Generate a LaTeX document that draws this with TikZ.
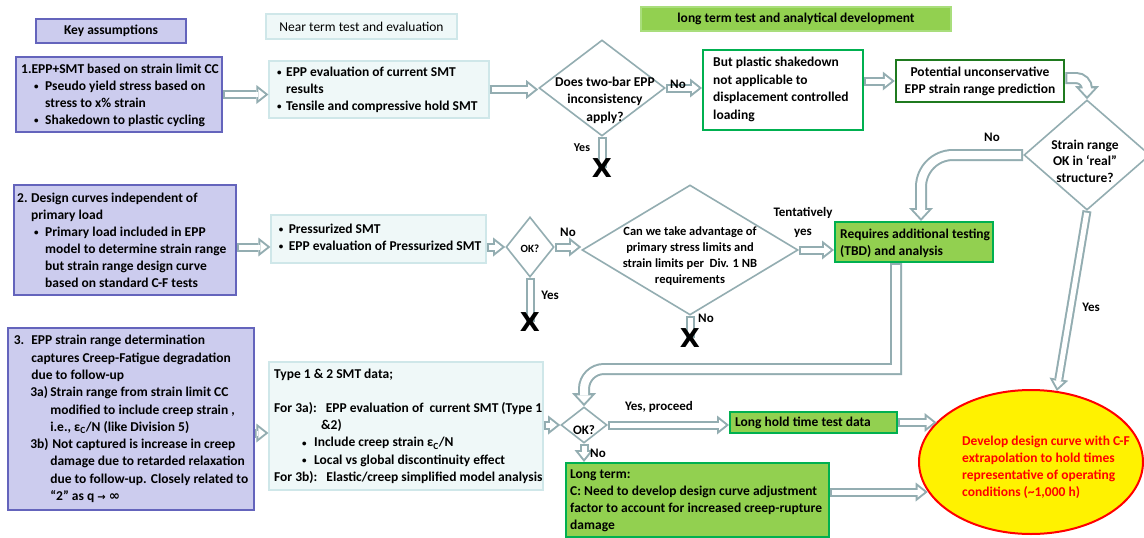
\documentclass[tikz,border=0pt]{standalone}
\usepackage{fontspec}
\setmainfont{Carlito}
\newfontfamily\symf{DejaVu Sans}
\usetikzlibrary{shapes.geometric,arrows.meta,calc}
\definecolor{ac}{HTML}{93ADB1}
\definecolor{lav}{HTML}{CCCCEE}
\definecolor{lavb}{HTML}{6464BC}
\definecolor{cy}{HTML}{EFF8F8}
\definecolor{cyb}{HTML}{CFE7E9}
\definecolor{gr}{HTML}{92D050}
\definecolor{grb}{HTML}{00B050}
\definecolor{grl}{HTML}{A9DE7C}
\definecolor{dgr}{HTML}{1F7A1F}
\tikzset{
  T/.style={inner sep=0pt, font={\fontsize{13.5}{17}\selectfont\bfseries}, align=left},
  Tr/.style={inner sep=0pt, font={\fontsize{13.5}{17}\selectfont}, align=left},
  bx/.style={rectangle, inner sep=0pt, line width=1.5pt},
  abox/.style={bx, draw=lavb, fill=lav},
  nbox/.style={bx, draw=cyb, fill=cy, line width=1.2pt},
  gbox/.style={bx, draw=grb, fill=gr, line width=2pt},
  wbox/.style={bx, draw=grb, fill=white, line width=2pt},
  dbox/.style={bx, draw=dgr, fill=white, line width=2.5pt},
  dia/.style={diamond, draw=ac, fill=white, line width=1.6pt, inner sep=0pt},
  lbl/.style={inner sep=0pt, font={\fontsize{13}{15}\selectfont\bfseries}},
  xmark/.style={inner sep=0pt, font={\symf\fontsize{26}{26}\selectfont\bfseries}},
  holo/.style={draw=ac, line width=9pt, -{Triangle[length=12pt,width=19pt,line width=0pt]}},
  holi/.style={draw=white, line width=5pt, shorten <=2pt, shorten >=3.2pt, -{Triangle[length=6.8pt,width=10.7pt,line width=0pt]}},
  bigo/.style={draw=ac, line width=12pt, -{Triangle[length=13pt,width=24pt,line width=0pt]}},
  bigi/.style={draw=white, line width=8pt, shorten <=2pt, shorten >=2.95pt, -{Triangle[length=8pt,width=14.9pt,line width=0pt]}},
}
\newcommand\hol[1]{\draw[holo] #1; \draw[holi] #1;}
\newcommand\bighol[1]{\draw[bigo] #1; \draw[bigi] #1;}
\newcommand\hshaft[1]{\draw[ac, line width=9pt] #1; \draw[white, line width=5pt, shorten <=2pt, shorten >=2pt] #1;}
\newcommand\bt{\raisebox{0.8pt}{\fontsize{9}{9}\selectfont\textbullet}}
\newcommand\bul[1]{\hspace*{#1}\makebox[11pt][l]{\bt}}
\begin{document}
\begin{tikzpicture}[x=1pt,y=-1pt]
\useasboundingbox (0,0) rectangle (1144,538);
\fill[white] (0,0) rectangle (1144,538);

% headers
\node[abox, T, align=center, minimum width=150pt, minimum height=24pt] (K) at (111,31) {Key assumptions};
\node[nbox, Tr, align=center, minimum width=191pt, minimum height=25pt] (NT) at (361.5,26.5) {Near term test and evaluation};
\node[bx, draw=grl, fill=gr, T, align=center, minimum width=310pt, minimum height=24pt] (LTH) at (796,19) {long term test and analytical development};

% assumption boxes
\node[abox, minimum width=206pt, minimum height=75pt] (B1) at (119,94.5) {};
\node[T, anchor=west] (B1t) at (21,95) {1.EPP+SMT based on strain limit CC\\
\bul{13pt}Pseudo yield stress based on\\
\hspace*{24pt}stress to x\% strain\\
\bul{13pt}Shakedown to plastic cycling};

\node[abox, minimum width=222pt, minimum height=110pt] (B2) at (125,240) {};
\node[T, anchor=west] (B2t) at (17,240.5) {\makebox[14pt][l]{2.}Design curves independent of\\
\hspace*{14pt}primary load\\
\bul{17pt}Primary load included in EPP\\
\hspace*{28pt}model to determine strain range\\
\hspace*{28pt}but strain range design curve\\
\hspace*{28pt}based on standard C-F tests};

\node[abox, minimum width=246pt, minimum height=182pt] (B3) at (131,419) {};
\node[T, anchor=west, font={\fontsize{13.5}{17.3}\selectfont\bfseries}] (B3t) at (13.6,419) {\makebox[17.5pt][l]{3.}EPP strain range determination\\
\hspace*{17.5pt}captures Creep-Fatigue degradation\\
\hspace*{17.5pt}due to follow-up\\
\hspace*{16.5pt}\makebox[20pt][l]{3a)}Strain range from strain limit CC\\
\hspace*{36.5pt}modified to include creep strain ,\\
\hspace*{36.5pt}i.e., ε\textsubscript{C}/N (like Division 5)\\
\hspace*{16.5pt}\makebox[22pt][l]{3b)}Not captured is increase in creep\\
\hspace*{36.5pt}damage due to retarded relaxation\\
\hspace*{36.5pt}due to follow-up. Closely related to\\
\hspace*{36.5pt}“2” as q {\symf\fontsize{10}{12}\selectfont →} {\symf ∞}};

% near term boxes
\node[nbox, minimum width=220pt, minimum height=57pt] (N1) at (379,89.5) {};
\node[T, anchor=west] (N1t) at (277,89.5) {\makebox[9pt][l]{\bt}EPP evaluation of current SMT\\
\hspace*{9pt}results\\
\makebox[9pt][l]{\bt}Tensile and compressive hold SMT};

\node[nbox, minimum width=215pt, minimum height=48pt] (N2) at (378.5,239) {};
\node[T, anchor=west] (N2t) at (278.6,237) {\makebox[10pt][l]{\bt}Pressurized SMT\\
\makebox[10pt][l]{\bt}EPP evaluation of Pressurized SMT};

\node[nbox, minimum width=274pt, minimum height=128pt] (N3) at (406,426) {};
\node[T, anchor=west, font={\fontsize{13.5}{17.2}\selectfont\bfseries}] (N3t) at (274,426) {Type 1 \& 2 SMT data;\\[17.2pt]
For 3a):\hspace{5pt} EPP evaluation of\hspace{3pt} current SMT (Type 1\\
\hspace*{47pt}\&2)\\
\hspace*{28pt}\makebox[12pt][l]{\bt}Include creep strain ε\textsubscript{C}/N\\
\hspace*{28pt}\makebox[12pt][l]{\bt}Local vs global discontinuity effect\\
For 3b):\hspace{5pt} Elastic/creep simplified model analysis};

% long term boxes
\node[wbox, minimum width=160pt, minimum height=80pt] (G1) at (783,90) {};
\node[T, anchor=west, font={\fontsize{13.5}{17.6}\selectfont\bfseries}] (G1t) at (713,89.5) {But plastic shakedown\\not applicable to\\displacement controlled\\loading};
\node[dbox, T, align=center, minimum width=168pt, minimum height=42pt] (G2) at (980,81) {Potential unconservative\\EPP strain range prediction};
\node[gbox, minimum width=158pt, minimum height=40pt] (R) at (914,242) {};
\node[T, anchor=west] (Rt) at (840,243) {Requires additional testing\\(TBD) and analysis};
\node[gbox, minimum width=167pt, minimum height=21pt] (LH) at (813.5,422.5) {};
\node[T, anchor=west] (LHt) at (735,423) {Long hold time test data};
\node[gbox, minimum width=263pt, minimum height=74pt] (LT) at (697.5,500) {};
\node[T, anchor=west] (LTt) at (570,501) {Long term:\\C: Need to develop design curve adjustment\\factor to account for increased creep-rupture\\damage};

% decisions
\node[dia, minimum width=126pt, minimum height=96pt] (D1) at (602,88) {};
\node[T, align=center, font={\fontsize{13.5}{17.5}\selectfont\bfseries}] (D1t) at (605,100) {Does two-bar EPP\\inconsistency\\apply?};
\node[dia, minimum width=126pt, minimum height=110pt] (D2) at (1087,155) {};
\node[T, align=center, font={\fontsize{13.5}{16.5}\selectfont\bfseries}] (D2t) at (1085,161) {Strain range\\OK in ‘real”\\structure?};
\node[dia, minimum width=216pt, minimum height=130pt] (D3) at (690,250) {};
\node[T, align=center, font={\fontsize{12.5}{16}\selectfont\bfseries}] (D3t) at (690,256) {Can we take advantage of\\primary stress limits and\\strain limits per\ \ Div. 1 NB\\requirements};
\node[dia, minimum width=48pt, minimum height=60pt] (OK1) at (530,247) {};
\node[lbl, font={\fontsize{11}{13}\selectfont\bfseries}] (OK1t) at (530,249) {OK?};
\node[dia, minimum width=46pt, minimum height=36pt] (OK2) at (584,425) {};
\node[lbl] (OK2t) at (584,430) {OK?};

% goal
\node[ellipse, draw=red, fill=yellow, line width=2pt, minimum width=224pt, minimum height=144pt, inner sep=0pt] (E) at (1031,462) {};
\node[T, anchor=west, text=red, font={\fontsize{13.5}{17}\selectfont\bfseries}] (Et) at (962,467.5) {Develop design curve with C-F\\extrapolation to hold times\\representative of operating\\conditions (\textasciitilde1,000 h)};

% helper coordinates
\coordinate (a3) at (0,433);
\coordinate (hy) at (0,369);
\coordinate (lty) at (0,492);
\coordinate (rs) at ([xshift=-18pt]R.south);
\coordinate (x1) at (602,168);
\coordinate (x2) at (530,322);
\coordinate (x3) at (690,338);

% connectors
\hol{(B1.east) -- (B1.east -| N1.west)}
\hol{(N1.east) -- (N1.east -| D1.west)}
\hol{(D1.east) -- (D1.east -| G1.west)}
\hol{(G2.west -| G1.east) -- (G2.west)}
\bighol{([yshift=3pt]G2.east) [rounded corners=11pt] -| (D2.north)}
\bighol{(D2.west) [rounded corners=32pt] -| ([xshift=7pt]R.north)}
\hol{(D2.south) -- (E.70)}
\hol{(B2.east |- OK1) -- (N2.west |- OK1)}
\hol{(N2.east |- OK1) -- (OK1.west)}
\hol{(OK1.east) -- (OK1.east -| D3.west)}
\hol{(D3.east) -- (D3.east -| R.west)}
\bighol{(rs) -- (rs |- hy) [rounded corners=20pt] -- (OK2.north |- hy) -- (OK2.north)}
\hol{(B3.east |- a3) -- (N3.west |- a3)}
\hol{(N3.east |- OK2) -- (OK2.west)}
\hol{(OK2.east) -- (OK2.east -| LH.west)}
\hol{(OK2.south) -- (OK2.south |- LT.north)}
\hol{(LH.east) -- (LH.east -| E.157)}
\hol{(LT.east |- lty) -- (E.196 |- lty)}

% dead ends
\hshaft{(D1.south) -- (x1)}
\hshaft{(OK1.south) -- (x2)}
\hshaft{(D3.south) -- (x3)}
\node[xmark] (X1) at (x1) {X};
\node[xmark] (X2) at (x2) {X};
\node[xmark] (X3) at (x3) {X};

% labels
\node[lbl] (l1) at (678,84) {No};
\node[lbl, font={\fontsize{12}{14}\selectfont\bfseries}] (l2) at (582,148) {Yes};
\node[lbl] (l3) at (992,137) {No};
\node[lbl] (l4) at (568,232) {No};
\node[lbl, align=center, font={\fontsize{13}{19}\selectfont\bfseries}] (l5) at (803,222) {Tentatively\\yes};
\node[lbl] (l6) at (550,295) {Yes};
\node[lbl] (l7) at (706,318) {No};
\node[lbl] (l8) at (1091,307) {Yes};
\node[lbl] (l9) at (659,407) {Yes, proceed};
\node[lbl] (l10) at (598,453) {No};
\end{tikzpicture}
\end{document}
